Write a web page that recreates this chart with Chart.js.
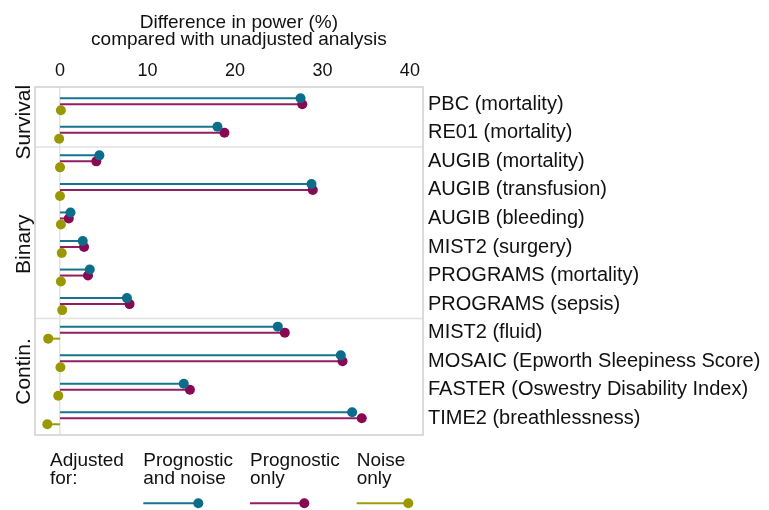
<!DOCTYPE html>
<html>
<head>
<meta charset="utf-8">
<script src="https://cdn.jsdelivr.net/npm/chart.js@4.4.1/dist/chart.umd.min.js"></script>
<style>
  html, body { margin: 0; padding: 0; background: #fff; }
</style>
</head>
<body>
<canvas id="powerChart" width="769" height="510"></canvas>
<script>
const studies = ["PBC (mortality)", "RE01 (mortality)", "AUGIB (mortality)", "AUGIB (transfusion)", "AUGIB (bleeding)", "MIST2 (surgery)", "PROGRAMS (mortality)", "PROGRAMS (sepsis)", "MIST2 (fluid)", "MOSAIC (Epworth Sleepiness Score)", "FASTER (Oswestry Disability Index)", "TIME2 (breathlessness)"];
const groups = ["Survival", "Binary", "Contin."];
const groupOf = [0, 0, 1, 1, 1, 1, 1, 1, 2, 2, 2, 2];
const prognosticAndNoise = [27.5, 18.0, 4.5, 28.75, 1.2, 2.6, 3.4, 7.65, 24.9, 32.1, 14.15, 33.4];
const prognosticOnly = [27.7, 18.8, 4.15, 28.9, 1.0, 2.75, 3.2, 7.95, 25.7, 32.3, 14.85, 34.5];
const noiseOnly = [0.1, -0.1, 0.0, 0.0, 0.1, 0.2, 0.1, 0.25, -1.35, 0.05, -0.2, -1.45];
const xTicks = [0, 10, 20, 30, 40];
const seriesNames = [["Prognostic", "and noise"], ["Prognostic", "only"], ["Noise", "only"]];

const font = "'Liberation Sans', Arial, Helvetica, sans-serif";
const colors = ['#0b6d8a', '#880852', '#9a9800'];
const stemColors = ['#16748f', '#931d63', '#9e9c10'];
const rowShift = [-0.21, 0, 0.21];
const groupLabelAt = [0.63, 4.9, 9.36];

Chart.defaults.font.family = font;
Chart.defaults.color = '#111';

function toPoints(values, k) {
    return values.map((v, i) => ({ x: v, y: i + rowShift[k] }));
}

const allSeries = [prognosticAndNoise, prognosticOnly, noiseOnly];

// stems from 0 to each dot, plus box and group separators
const lollipop = {
    id: 'lollipop',
    beforeDatasetsDraw(chart) {
        const ctx = chart.ctx;
        const area = chart.chartArea;
        const xs = chart.scales.x, ys = chart.scales.y;
        ctx.save();
        ctx.strokeStyle = '#e2e2e2';
        ctx.lineWidth = 1.5;
        for (let i = 1; i < groupOf.length; i++) {
            if (groupOf[i] !== groupOf[i - 1]) {
                const y = ys.getPixelForValue(i - 0.5);
                ctx.beginPath();
                ctx.moveTo(area.left, y);
                ctx.lineTo(area.right, y);
                ctx.stroke();
            }
        }
        ctx.strokeStyle = '#d0d0d0';
        ctx.strokeRect(area.left, area.top, area.right - area.left, area.bottom - area.top);

        const x0 = xs.getPixelForValue(0);
        chart.data.datasets.forEach((ds, k) => {
            ctx.strokeStyle = stemColors[k];
            ctx.lineWidth = 2;
            chart.getDatasetMeta(k).data.forEach(pt => {
                ctx.beginPath();
                ctx.moveTo(x0, pt.y);
                ctx.lineTo(pt.x, pt.y);
                ctx.stroke();
            });
        });
        ctx.restore();
    },
    afterDraw(chart) {
        const ctx = chart.ctx;
        const xs = chart.scales.x, ys = chart.scales.y;
        ctx.save();
        ctx.fillStyle = '#111';

        // axis title
        ctx.font = `19px ${font}`;
        ctx.textAlign = 'center';
        ctx.textBaseline = 'alphabetic';
        const cx = xs.getPixelForValue(20) + 4;
        ctx.fillText('Difference in power (%)', cx, 27.5);
        ctx.fillText('compared with unadjusted analysis', cx, 45);

        // group labels on the left
        ctx.font = `21px ${font}`;
        groups.forEach((g, i) => {
            ctx.save();
            ctx.translate(29.5, ys.getPixelForValue(groupLabelAt[i]));
            ctx.rotate(-Math.PI / 2);
            ctx.fillText(g, 0, 0);
            ctx.restore();
        });

        // legend
        ctx.font = `19px ${font}`;
        ctx.textAlign = 'left';
        ctx.fillText('Adjusted', 50, 466);
        ctx.fillText('for:', 50, 484);
        const colX = [143.3, 250, 356.7];
        const dotX = [198.3, 304.3, 408.3];
        seriesNames.forEach((lines, k) => {
            ctx.fillStyle = '#111';
            ctx.fillText(lines[0], colX[k], 466);
            ctx.fillText(lines[1], colX[k], 484);
            ctx.strokeStyle = stemColors[k];
            ctx.lineWidth = 2;
            ctx.beginPath();
            ctx.moveTo(colX[k], 503.3);
            ctx.lineTo(dotX[k], 503.3);
            ctx.stroke();
            ctx.fillStyle = colors[k];
            ctx.beginPath();
            ctx.arc(dotX[k], 503.3, 5, 0, Math.PI * 2);
            ctx.fill();
        });
        ctx.restore();
    }
};

const chartEl = document.getElementById('powerChart').getContext('2d');
const powerChart = new Chart(chartEl, {
    type: 'scatter',
    data: {
        datasets: allSeries.map((vals, k) => ({
            label: seriesNames[k].join(' '),
            data: toPoints(vals, k),
            backgroundColor: colors[k],
            borderWidth: 0,
            pointRadius: 5,
            pointHoverRadius: 5
        }))
    },
    options: {
        responsive: false,
        animation: false,
        devicePixelRatio: 1,
        events: [],
        layout: { padding: { left: 35, right: 0, top: 0, bottom: 75 } },
        scales: {
            x: {
                type: 'linear',
                position: 'top',
                min: -2.86,
                max: 41.5,
                afterBuildTicks: s => { s.ticks = xTicks.map(v => ({ value: v })); },
                afterFit: s => { s.height = 87; },
                grid: {
                    drawTicks: false,
                    lineWidth: 1.5,
                    color: c => (c.tick && c.tick.value === 0) ? '#e2e2e2' : 'rgba(0,0,0,0)'
                },
                border: { display: false },
                ticks: { padding: 5, color: '#111', font: { size: 18 } }
            },
            y: {
                type: 'linear',
                position: 'right',
                reverse: true,
                min: -0.605,
                max: 11.585,
                afterBuildTicks: s => { s.ticks = studies.map((_, i) => ({ value: i })); },
                afterFit: s => { s.width = 346; },
                grid: { display: false, drawTicks: false },
                border: { display: false },
                ticks: {
                    autoSkip: false,
                    padding: 5,
                    color: '#111',
                    font: { size: 20 },
                    callback: v => studies[v]
                }
            }
        },
        plugins: {
            legend: { display: false },
            tooltip: { enabled: false }
        }
    },
    plugins: [lollipop]
});
</script>
</body>
</html>
